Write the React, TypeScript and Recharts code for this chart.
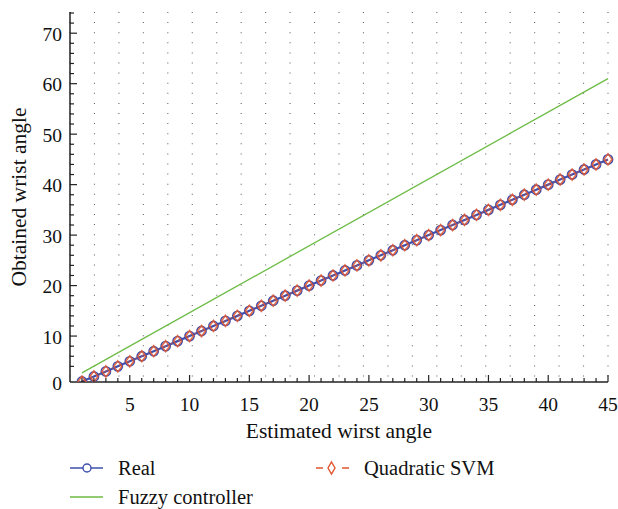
import { LineChart, Line, XAxis, YAxis, CartesianGrid, Legend } from 'recharts';

const xValues = [1, 2, 3, 4, 5, 6, 7, 8, 9, 10, 11, 12, 13, 14, 15, 16, 17, 18, 19, 20, 21, 22, 23, 24, 25, 26, 27, 28, 29, 30, 31, 32, 33, 34, 35, 36, 37, 38, 39, 40, 41, 42, 43, 44, 45];
const realValues = [1, 2, 3, 4, 5, 6, 7, 8, 9, 10, 11, 12, 13, 14, 15, 16, 17, 18, 19, 20, 21, 22, 23, 24, 25, 26, 27, 28, 29, 30, 31, 32, 33, 34, 35, 36, 37, 38, 39, 40, 41, 42, 43, 44, 45];
const svmValues = [1, 2, 3, 4, 5, 6, 7, 8, 9, 10, 11, 12, 13, 14, 15, 16, 17, 18, 19, 20, 21, 22, 23, 24, 25, 26, 27, 28, 29, 30, 31, 32, 33, 34, 35, 36, 37, 38, 39, 40, 41, 42, 43, 44, 45];
const fuzzyX = [1, 45];
const fuzzyY = [2.7, 61];

const xMajor = [5, 10, 15, 20, 25, 30, 35, 40, 45];
const xMinor = [1, 2, 3, 4, 6, 7, 8, 9, 11, 12, 13, 14, 16, 17, 18, 19, 21, 22, 23, 24, 26, 27, 28, 29, 31, 32, 33, 34, 36, 37, 38, 39, 41, 42, 43, 44];
const yMin = 0.9;
const yMax = 74.2;
const yMajor = [10, 20, 30, 40, 50, 60, 70];
const yMinor = [4, 6, 8, 12, 14, 16, 18, 22, 24, 26, 28, 32, 34, 36, 38, 42, 44, 46, 48, 52, 54, 56, 58, 62, 64, 66, 68, 72, 74];

const data = xValues.map((x, i) => ({ x, real: realValues[i], svm: svmValues[i] }));
const fuzzyData = fuzzyX.map((x, i) => ({ x, fuzzy: fuzzyY[i] }));

const FONT = '"Liberation Serif", "DejaVu Serif", serif';
const BLUE = '#3d4fae';
const RED = '#e2552e';
const GREEN = '#6dbb45';
const INK = '#222';

const XTick = (props: any) => {
  const { x, y, payload, top } = props;
  const v = payload.value;
  const major = xMajor.includes(v);
  const len = major ? 7 : 4;
  const dir = top ? 1 : -1;
  return (
    <g>
      <line x1={x} y1={y} x2={x} y2={y + dir * len} stroke={INK} strokeWidth={1.2} />
      {!top && major && (
        <text x={x} y={y + 22} textAnchor="middle" dominantBaseline="central" fontFamily={FONT} fontSize={19.5} fill="#111">
          {v}
        </text>
      )}
    </g>
  );
};

const YTick = (props: any) => {
  const { x, y, payload, right } = props;
  const v = payload.value;
  const isMin = v === yMin;
  const major = yMajor.includes(v);
  const len = major ? 7 : 4;
  const dir = right ? -1 : 1;
  return (
    <g>
      {!isMin && <line x1={x} y1={y} x2={x + dir * len} y2={y} stroke={INK} strokeWidth={1.2} />}
      {!right && (major || isMin) && (
        <text x={x - 8} y={y + 1} textAnchor="end" dominantBaseline="central" fontFamily={FONT} fontSize={19.5} fill="#111">
          {isMin ? 0 : v}
        </text>
      )}
    </g>
  );
};

const CircleDot = (props: any) => {
  const { cx, cy } = props;
  if (cx == null || cy == null) return null;
  return <circle cx={cx} cy={cy} r={4.6} fill="none" stroke={BLUE} strokeWidth={1.6} />;
};

const DiamondDot = (props: any) => {
  const { cx, cy } = props;
  if (cx == null || cy == null) return null;
  return (
    <path
      d={`M${cx},${cy - 5.5} L${cx + 4},${cy} L${cx},${cy + 5.5} L${cx - 4},${cy} Z`}
      fill="none"
      stroke={RED}
      strokeOpacity={0.85}
      strokeWidth={1.6}
    />
  );
};

const LegendBox = () => (
  <svg width={618} height={57} style={{ display: 'block' }}>
    <g fontFamily={FONT} fontSize={20.5} fill="#111">
      <line x1={70} y1={16} x2={103} y2={16} stroke={BLUE} strokeWidth={1.5} />
      <circle cx={87} cy={16} r={4} fill="white" stroke={BLUE} strokeWidth={1.4} />
      <text x={118} y={16} dominantBaseline="central">Real</text>
      <line x1={70} y1={45} x2={103} y2={45} stroke={GREEN} strokeWidth={1.3} />
      <text x={118} y={45} dominantBaseline="central">Fuzzy controller</text>
      <line x1={316} y1={16} x2={350} y2={16} stroke={RED} strokeWidth={1.4} strokeDasharray="7 6" />
      <rect x={326} y={9} width={11} height={14} fill="white" />
      <path d="M331.5,10 L335,16 L331.5,22 L328,16 Z" fill="none" stroke={RED} strokeWidth={1.4} />
      <text x={364} y={16} dominantBaseline="central">Quadratic SVM</text>
    </g>
  </svg>
);

export default function App() {
  return (
    <div style={{ position: 'absolute', left: 0, top: 0, width: 618, height: 509, background: '#fff' }}>
      <LineChart width={618} height={509} data={data} margin={{ top: 12, right: 10, left: 0, bottom: 0 }}>
        <CartesianGrid
          horizontal={false}
          vertical
          stroke="#666"
          strokeWidth={1.1}
          strokeDasharray="1 9.1"
        />
        <XAxis
          xAxisId="b"
          dataKey="x"
          type="number"
          domain={[0, 45]}
          ticks={[...xMinor, ...xMajor].sort((a, b) => a - b)}
          interval={0}
          tickSize={0}
          tickMargin={0}
          tickLine={false}
          height={70}
          axisLine={{ stroke: INK, strokeWidth: 1.5 }}
          tick={<XTick />}
          label={{ value: 'Estimated wirst angle', position: 'insideBottom', offset: 14, fontFamily: FONT, fontSize: 21.5, fill: '#111' }}
        />
        <XAxis
          xAxisId="t"
          orientation="top"
          dataKey="x"
          type="number"
          domain={[0, 45]}
          ticks={[...xMinor, ...xMajor].sort((a, b) => a - b)}
          interval={0}
          tickSize={0}
          tickMargin={0}
          tickLine={false}
          height={0}
          axisLine={{ stroke: INK, strokeWidth: 1.5 }}
          tick={<XTick top />}
        />
        <YAxis
          yAxisId="l"
          type="number"
          domain={[yMin, yMax]}
          allowDataOverflow
          ticks={[yMin, ...yMinor, ...yMajor].sort((a, b) => a - b)}
          interval={0}
          tickSize={0}
          tickMargin={0}
          tickLine={false}
          width={70}
          axisLine={{ stroke: INK, strokeWidth: 1.5 }}
          tick={<YTick />}
          label={{ value: 'Obtained wrist angle', angle: -90, position: 'insideLeft', offset: 18, style: { textAnchor: 'middle' }, fontFamily: FONT, fontSize: 21.5, fill: '#111' }}
        />
        <YAxis
          yAxisId="r"
          orientation="right"
          type="number"
          domain={[yMin, yMax]}
          allowDataOverflow
          ticks={[...yMinor, ...yMajor].sort((a, b) => a - b)}
          interval={0}
          tickSize={0}
          tickMargin={0}
          tickLine={false}
          width={0}
          axisLine={{ stroke: INK, strokeWidth: 1.5 }}
          tick={<YTick right />}
        />
        <Line
          xAxisId="b"
          yAxisId="l"
          data={fuzzyData}
          dataKey="fuzzy"
          stroke={GREEN}
          strokeWidth={1.3}
          dot={false}
          isAnimationActive={false}
        />
        <Line
          xAxisId="b"
          yAxisId="l"
          dataKey="real"
          stroke={BLUE}
          strokeWidth={2.2}
          dot={<CircleDot />}
          isAnimationActive={false}
        />
        <Line
          xAxisId="b"
          yAxisId="l"
          dataKey="svm"
          stroke={RED}
          strokeWidth={1.2}
          strokeDasharray="4 4"
          strokeOpacity={0.5}
          dot={<DiamondDot />}
          isAnimationActive={false}
        />
        <Legend
          verticalAlign="bottom"
          content={<LegendBox />}
          wrapperStyle={{ left: 0, bottom: 0, width: 618, height: 57 }}
        />
      </LineChart>
    </div>
  );
}
